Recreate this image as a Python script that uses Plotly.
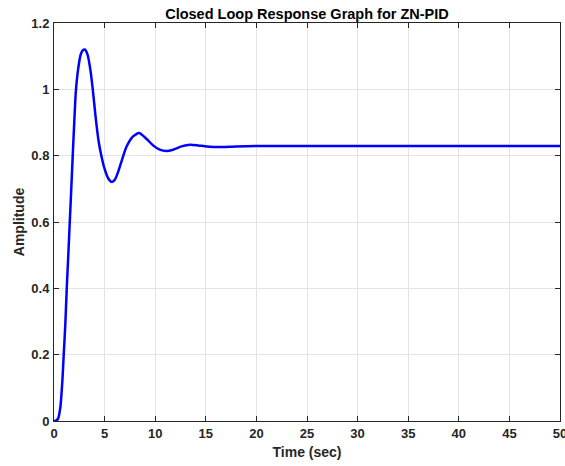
import plotly.graph_objects as go

# Data
time_sec = [0, 0.2, 0.4, 0.63, 0.83, 0.96, 1.12, 1.26, 1.42, 1.55, 1.7, 1.85, 2.0, 2.15, 2.38,
            2.64, 2.85, 3.04, 3.3, 3.6, 3.83, 4.1, 4.4, 4.68, 5.0, 5.35, 5.7, 6.0, 6.3, 6.6,
            7.15, 7.81, 8.4, 9.13, 9.79, 10.45, 11.1, 11.77, 12.6, 13.45, 14.25, 15.1, 16.2,
            18, 20, 25, 30, 40, 50]
amplitude = [0, 0.001, 0.007, 0.042, 0.123, 0.2, 0.293, 0.4, 0.505, 0.595, 0.695, 0.8, 0.9,
             0.99, 1.06, 1.105, 1.118, 1.120, 1.106, 1.058, 1.0, 0.92, 0.845, 0.80, 0.76,
             0.732, 0.721, 0.727, 0.748, 0.776, 0.826, 0.858, 0.868, 0.851, 0.831, 0.818,
             0.814, 0.818, 0.828, 0.833, 0.831, 0.828, 0.826, 0.828, 0.829, 0.829, 0.829,
             0.829, 0.829]

x_ticks = [0, 5, 10, 15, 20, 25, 30, 35, 40, 45, 50]
y_ticks = [0, 0.2, 0.4, 0.6, 0.8, 1.0, 1.2]
y_tick_text = ["0", "0.2", "0.4", "0.6", "0.8", "1", "1.2"]

font_family = "Liberation Sans, Arial, Helvetica, sans-serif"
axis_color = "#262626"

fig = go.Figure()
fig.add_trace(go.Scatter(
    x=time_sec, y=amplitude, mode="lines",
    line=dict(color="#0000FF", width=2.5, shape="spline", smoothing=0.6),
    showlegend=False, hoverinfo="x+y",
))

axis_common = dict(
    showline=True, linecolor=axis_color, linewidth=1, mirror="ticks",
    ticks="inside", ticklen=5, tickcolor=axis_color, tickwidth=1,
    showgrid=True, gridcolor="#e3e3e3", gridwidth=1, zeroline=False,
    automargin=False, ticklabeloverflow="allow",
    tickfont=dict(family=font_family, size=13, color=axis_color, weight="bold"),
)

fig.update_layout(
    width=565, height=466,
    margin=dict(l=54, r=5, t=23, b=45),
    paper_bgcolor="white", plot_bgcolor="white",
    title=dict(text="Closed Loop Response Graph for ZN-PID",
               x=0.5, xref="paper", xanchor="center",
               y=1 - 14 / 466, yref="container", yanchor="middle",
               font=dict(family=font_family, size=14.5, color="black", weight="bold")),
    xaxis=dict(range=[0, 50], tickvals=x_ticks,
               title=dict(text="Time (sec)", standoff=7,
                          font=dict(family=font_family, size=14, color=axis_color,
                                    weight="bold")),
               **axis_common),
    yaxis=dict(range=[0, 1.2], tickvals=y_ticks, ticktext=y_tick_text,
               ticklabelstandoff=1,
               title=dict(text="Amplitude", standoff=3,
                          font=dict(family=font_family, size=14, color=axis_color,
                                    weight="bold")),
               **axis_common),
)

fig.write_html("out.html",
               config={"displayModeBar": False},
               post_script="document.body.style.margin='0px';"
                           "document.body.style.overflow='hidden';")
